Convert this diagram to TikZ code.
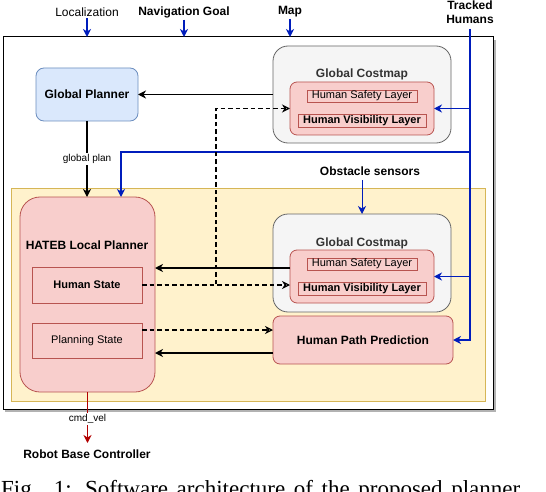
\documentclass[tikz,border=0pt]{standalone}
\usepackage{fontspec}
\setmainfont{Liberation Sans}
\newfontfamily\capfont{Liberation Serif}
\usetikzlibrary{arrows.meta,calc}
\definecolor{cblue}{HTML}{001DBC}
\definecolor{yfill}{HTML}{FFF2CC}
\definecolor{ydraw}{HTML}{D6B656}
\definecolor{bfill}{HTML}{DAE8FC}
\definecolor{bdraw}{HTML}{6C8EBF}
\definecolor{gfill}{HTML}{F5F5F5}
\definecolor{gdraw}{HTML}{666666}
\definecolor{pfill}{HTML}{F8CECC}
\definecolor{pdraw}{HTML}{B85450}
\definecolor{cred}{HTML}{B20000}
\definecolor{gtext}{HTML}{333333}
\tikzset{
  box/.style={draw, line width=0.8pt, inner sep=0pt, outer sep=0pt, align=center},
  bluebox/.style={box, fill=bfill, draw=bdraw, rounded corners=8pt},
  graybox/.style={box, fill=gfill, draw=gdraw, rounded corners=15pt},
  pinkbox/.style={box, fill=pfill, draw=pdraw, rounded corners=7pt},
  layerbox/.style={box, fill=pfill, draw=pdraw},
  lbl/.style={inner sep=0pt, outer sep=0pt, align=center, font=\fontsize{12}{14}\selectfont},
  blbl/.style={lbl, font=\fontsize{12}{14}\selectfont\bfseries},
  small/.style={inner sep=1pt, fill=white, text=black, font=\fontsize{10}{11}\selectfont},
  solidarrow/.style={line width=1.8pt, -{Stealth[length=8pt,width=8pt,inset=2.5pt]}},
  dasharrow/.style={line width=1.5pt, dash pattern=on 4.5pt off 3pt, -{Stealth[open,length=8pt,width=8pt,inset=2.5pt,line width=1.2pt]}},
  bluearrow/.style={cblue, line width=1.8pt, -{Stealth[length=8pt,width=8pt,inset=2.5pt]}},
}
\begin{document}
\begin{tikzpicture}[x=1pt,y=-1pt]
\useasboundingbox (0,0) rectangle (546,492);
% outer frame with shadow
\fill[gray!60] (5,40) rectangle (496,412);
\node[box, fill=white, draw=black, line width=1pt, minimum width=490pt, minimum height=372pt] (outer) at (248,223) {};
\node[box, fill=yfill, draw=ydraw, minimum width=474pt, minimum height=213pt] (local) at (248,294.5) {};
% global planner
\node[bluebox, minimum width=102pt, minimum height=53pt, font=\fontsize{12}{14}\selectfont\bfseries] (gp) at (87,94.5) {Global Planner};
% global costmap 1
\node[graybox, minimum width=178pt, minimum height=97pt] (gc1) at (362,94.5) {};
\node[blbl, text=gtext] (gct1) at (362,74) {Global Costmap};
\node[pinkbox, minimum width=144pt, minimum height=53pt] (l1) at (362,108.5) {};
\node[layerbox, minimum width=110pt, minimum height=12pt, font=\fontsize{11}{13}\selectfont] (hsl1) at (362,96) {Human Safety Layer};
\node[layerbox, minimum width=128pt, minimum height=13pt, font=\fontsize{11}{13}\selectfont\bfseries] (hvl1) at (362,120.5) {Human Visibility Layer};
% global costmap 2
\node[graybox, minimum width=178pt, minimum height=98pt] (gc2) at (362,263) {};
\node[blbl, text=gtext] (gct2) at (362,243) {Global Costmap};
\node[pinkbox, minimum width=144pt, minimum height=53pt] (l2) at (362,276.5) {};
\node[layerbox, minimum width=110pt, minimum height=12pt, font=\fontsize{11}{13}\selectfont] (hsl2) at (362,264) {Human Safety Layer};
\node[layerbox, minimum width=128pt, minimum height=13pt, font=\fontsize{11}{13}\selectfont\bfseries] (hvl2) at (362,288.5) {Human Visibility Layer};
% human path prediction
\node[pinkbox, minimum width=180pt, minimum height=48pt, font=\fontsize{12}{14}\selectfont\bfseries] (hpp) at (363,340) {Human Path Prediction};
% HATEB
\node[pinkbox, rounded corners=20pt, minimum width=135pt, minimum height=195pt] (hateb) at (87.5,294.5) {};
\node[blbl] (hatebt) at (87,245) {HATEB Local Planner};
\node[layerbox, minimum width=110pt, minimum height=36pt, font=\fontsize{11}{13}\selectfont\bfseries] (hs) at (87,285) {Human State};
\node[layerbox, minimum width=110pt, minimum height=35pt, font=\fontsize{11}{13}\selectfont] (ps) at (87,340.5) {Planning State};
% top labels
\node[lbl] (loc) at (87,12) {Localization};
\node[blbl] (nav) at (184,12) {Navigation Goal};
\node[blbl] (map) at (290,12) {Map};
\node[blbl, font=\fontsize{12}{14}\selectfont\bfseries] (tr) at (470,12) {Tracked\\Humans};
\node[blbl] (obs) at (370,171) {Obstacle sensors};
\node[blbl] (rbc) at (87,454) {Robot Base Controller};
% caption (cut off at the bottom edge, as in the reference)
\node[anchor=base west, inner sep=0pt, font=\capfont\fontsize{23}{23}\selectfont] (cap) at (1,496) {\makebox[519pt][s]{Fig. 1: Software architecture of the proposed planner}};
% input arrows
\draw[bluearrow] (loc.south) ++(0,2) -- (loc.south |- outer.north);
\draw[bluearrow] (nav.south) ++(0,2) -- (nav.south |- outer.north);
\draw[bluearrow] (map.south) ++(0,2) -- (map.south |- outer.north);
% tracked humans
\coordinate (tj1) at (470,108.5);
\coordinate (tj2) at (470,152);
\coordinate (tj3) at (470,276.5);
\coordinate (tstart) at (470,29);
\draw[bluearrow] (tstart) |- (hpp.east);
\draw[bluearrow] (tj1) -- (l1.east);
\draw[bluearrow] (tj3) -- (l2.east);
\draw[bluearrow] (tj2) -| (121,197);
% obstacle sensors
\coordinate (os) at (362,180);
\draw[cblue, line width=1pt, -{Stealth[length=8pt,width=8pt,inset=2.5pt]}] (os) -- (os |- gc2.north);
% global costmap -> global planner
\draw[solidarrow] (gc1.west) -- (gp.east);
% global plan
\draw[solidarrow] (gp.south) -- (gp.south |- hateb.north) node[small, pos=0.5] {global plan};
% local costmap -> HATEB
\coordinate (lc) at (290,268);
\draw[solidarrow] (lc) -- (lc -| hateb.east);
\coordinate (hp) at (273,353);
\draw[solidarrow] (hp) -- (hp -| hateb.east);
% dashed
\draw[dasharrow] (hs.east) -- (hs.east -| l2.west);
\draw[dasharrow] (hs.east) -| (216,108.5) -- (l1.west);
\coordinate (psd) at (142,330);
\draw[dasharrow] (psd) -- (psd -| hpp.west);
% cmd_vel
\draw[cred, line width=1.8pt, -{Stealth[length=8pt,width=8pt,inset=2.5pt]}] (hateb.south) -- (87.5,443) node[small, pos=0.53] {cmd\_vel};
\end{tikzpicture}
\end{document}
